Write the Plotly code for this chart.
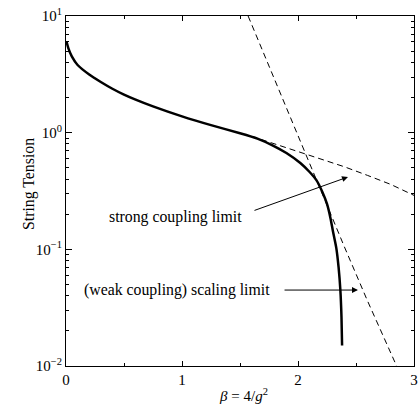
import plotly.graph_objects as go

# full (interpolating) curve
beta_full = [0.005, 0.02, 0.05, 0.1, 0.2, 0.3, 0.4, 0.5, 0.6, 0.75, 1.0, 1.25, 1.5, 1.65, 1.78,
             1.9, 2.02, 2.1, 2.16, 2.21, 2.25, 2.28, 2.30, 2.33, 2.35, 2.365, 2.375, 2.38]
sigma_full = [6.0, 5.3, 4.5, 3.8, 3.15, 2.72, 2.38, 2.12, 1.92, 1.68, 1.38, 1.16, 0.99, 0.89, 0.78,
              0.67, 0.55, 0.46, 0.39, 0.31, 0.245, 0.185, 0.145, 0.103, 0.07, 0.045, 0.026, 0.015]

# strong coupling limit (dashed)
beta_strong = [1.6, 1.8, 2.0, 2.2, 2.4, 2.6, 2.8, 3.0]
sigma_strong = [0.93, 0.80, 0.69, 0.60, 0.51, 0.43, 0.36, 0.29]

# weak coupling scaling limit (dashed)
beta_weak = [1.57, 1.8, 2.0, 2.2, 2.4, 2.6, 2.85]
sigma_weak = [10.0, 2.8, 0.95, 0.315, 0.105, 0.036, 0.01]

x_ticks = [0, 1, 2, 3]
x_ticktext = ["0", "1", "2", "3"]
y_ticks = [0.01, 0.1, 1, 10]
y_ticktext = ["10<sup>−2</sup>", "10<sup>−1</sup>", "10<sup>0</sup>", "10<sup>1</sup>"]

font_family = "Liberation Serif"
tick_size = 15
label_size = 15.8

y_minor = [m * 10 ** k for k in (-2, -1, 0) for m in range(2, 10)]

fig = go.Figure()
fig.add_trace(go.Scatter(x=beta_strong, y=sigma_strong, mode="lines",
                         line=dict(color="black", width=1, dash="6px,4px")))
fig.add_trace(go.Scatter(x=beta_weak, y=sigma_weak, mode="lines",
                         line=dict(color="black", width=1, dash="6px,4px")))
fig.add_trace(go.Scatter(x=beta_full, y=sigma_full, mode="lines",
                         line=dict(color="black", width=2.5, shape="spline", smoothing=0.6)))

fig.update_layout(
    width=418, height=405,
    margin=dict(l=66, r=4, t=16, b=39),
    paper_bgcolor="white", plot_bgcolor="white",
    showlegend=False,
    font=dict(family=font_family, size=tick_size, color="black"),
)

fig.update_xaxes(
    range=[0, 3], tickvals=x_ticks, ticktext=x_ticktext, automargin=False,
    ticks="inside", ticklen=5, tickcolor="black",
    showline=True, linecolor="black", linewidth=1.2, mirror="ticks",
    showgrid=False, zeroline=False,
    minor=dict(ticks="inside", ticklen=3, tickvals=[0.5, 1.5, 2.5], tickcolor="black", showgrid=False),
)
fig.update_yaxes(
    type="log", range=[-2, 1], tickvals=y_ticks, ticktext=y_ticktext, automargin=False,
    ticks="inside", ticklen=6, tickcolor="black",
    showline=True, linecolor="black", linewidth=1.2, mirror="ticks",
    showgrid=False, zeroline=False,
    minor=dict(ticks="inside", ticklen=3, tickvals=y_minor, tickcolor="black", showgrid=False),
)

# axis titles
fig.add_annotation(x=0.509, y=-0.083, xref="paper", yref="paper",
                   text="<i>β</i> = 4/<i>g</i><sup>2</sup>", showarrow=False,
                   font=dict(size=tick_size), yanchor="middle")
fig.add_annotation(x=-0.138, y=0.52, xref="paper", yref="paper", text="String Tension",
                   textangle=-90, showarrow=False, font=dict(size=label_size))

fig.add_annotation(x=0.94, y=-0.723, xref="x", yref="y", text="strong coupling limit",
                   showarrow=False, font=dict(size=label_size))
fig.add_annotation(x=2.431, y=-0.38, ax=1.612, ay=-0.671, xref="x", yref="y",
                   axref="x", ayref="y", text="", showarrow=True,
                   arrowhead=2, arrowsize=1.2, arrowwidth=1, arrowcolor="black")
fig.add_annotation(x=0.961, y=-1.349, xref="x", yref="y", text="(weak coupling) scaling limit",
                   showarrow=False, font=dict(size=label_size))
fig.add_annotation(x=2.517, y=-1.349, ax=1.871, ay=-1.349, xref="x", yref="y",
                   axref="x", ayref="y", text="", showarrow=True,
                   arrowhead=2, arrowsize=1.2, arrowwidth=1, arrowcolor="black")

# drop the default 8px body margin so the 418x405 figure fits the window
fig.write_html("out.html", config={"displayModeBar": False},
               post_script="document.body.style.margin = '0';")
